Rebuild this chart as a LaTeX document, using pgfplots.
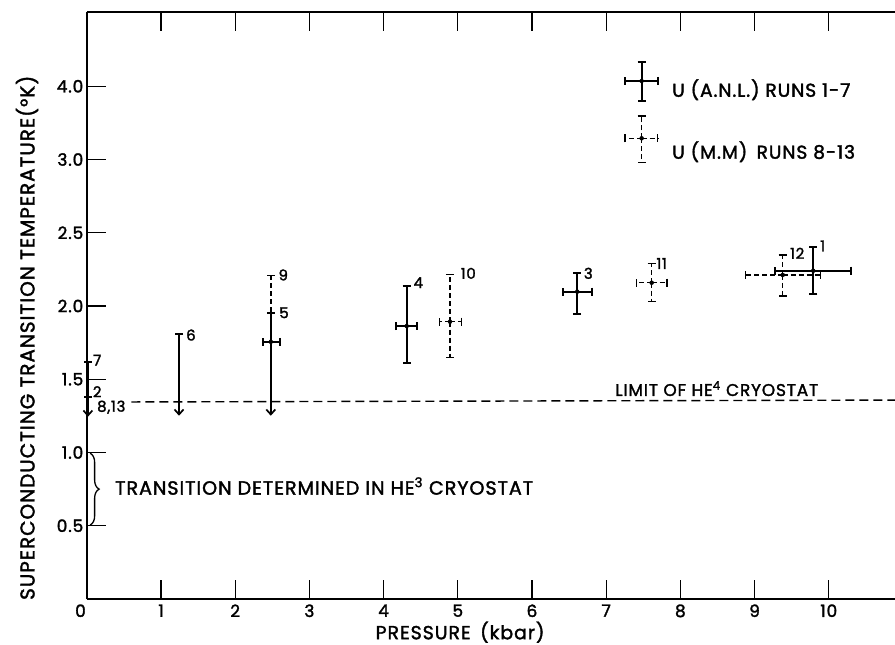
\documentclass[border=0pt]{standalone}
\usepackage{pgfplots}
\pgfplotsset{compat=1.18}
\usepackage{fontspec}
\setmainfont{Poppins}[FakeBold=1.8, LetterSpace=5]
\usetikzlibrary{arrows.meta,decorations.pathreplacing}

\pgfplotsset{
  anl/.style={only marks, mark=none, black,
    error bars/.cd, x dir=both, x explicit, y dir=both, y explicit,
    error mark=-,
    error mark options={black, solid, rotate=90, mark size=4bp, line width=1.7bp},
    error bar style={black, line width=1.7bp}},
  mm/.style={only marks, mark=none, black,
    error bars/.cd, x dir=both, x explicit, y dir=both, y explicit,
    error mark=-,
    error mark options={black, solid, rotate=90, mark size=4bp, line width=1.4bp},
    error bar style={black, line width=1.4bp, dash pattern=on 5bp off 3bp}},
  upper/.style={black, line width=1.7bp, mark=-, mark size=4bp,
    mark options={solid, arrows=-}, -{Straight Barb[length=5bp,width=9bp]}},
}
\tikzset{runno/.style={font=\fontsize{15}{17}\selectfont, inner sep=0pt}}

\begin{document}
\begin{tikzpicture}
\begin{axis}[
  at={(0,0)}, anchor=south west,
  scale only axis, width=813.2bp, height=587bp,
  xmin=0, xmax=10.96, ymin=0, ymax=4.007,
  axis x line=box, axis y line=left,
  axis line style={line width=1.6bp, -},
  tick align=inside, major tick length=19bp,
  tick style={line width=1.2bp, black},
  xtick={0,...,10},
  xticklabels={{\makebox[0pt][r]{0\hspace{1bp}}},1,2,3,4,5,6,7,8,9,10},
  ytick={0.5,1,1.5,2,2.5,3,3.5},
  yticklabels={0.5,1.0,1.5,2.0,2.5,3.0,4.0},
  ticklabel style={font=\fontsize{17}{20}\selectfont},
  xticklabel style={yshift=-2bp},
  /pgf/number format/assume math mode=true,
  xlabel={PRESSURE\enspace(kbar)},
  ylabel={SUPERCONDUCTING TRANSITION TEMPERATURE(°K)},
  xlabel style={font=\fontsize{19}{22}\selectfont,
    at={(axis description cs:0.459,-0.0565)}, anchor=center},
  ylabel style={font=\fontsize{20}{23}\selectfont,
    at={(axis description cs:-0.0735,0.445)}, anchor=center},
  clip=false,
]
% limit of the He4 cryostat
\addplot[black, line width=1.4bp, dash pattern=on 9bp off 5bp]
  coordinates {(0.6,1.345) (10.96,1.358)};

% U (A.N.L.) runs 1-7
\addplot[anl] coordinates {
  (4.311,1.863) += (0.143,0.274) -= (0.144,0.250)
  (6.610,2.098) += (0.200,0.125) -= (0.196,0.153)
  (9.791,2.241) += (0.504,0.164) -= (0.516,0.159)
  (2.480,1.756) += (0.124,0) -= (0.101,0)
};
\addplot[upper, mark indices={1,2}] coordinates {(0.015,1.62) (0.015,1.38) (0.015,1.244)};
\addplot[upper, mark indices={1}] coordinates {(1.243,1.807) (1.243,1.251)};
\addplot[upper, mark indices={1}] coordinates {(2.48,1.95) (2.48,1.251)};

% U (M.M) runs 8-13
\addplot[mm] coordinates {
  (4.895,1.893) += (0.155,0.323) -= (0.145,0.243)
  (7.613,2.159) += (0.207,0.131) -= (0.203,0.129)
  (9.379,2.212) += (0.511,0.136) -= (0.499,0.144)
};
\addplot[black, line width=1.4bp, dash pattern=on 5bp off 3bp,
  mark=-, mark size=4bp, mark options={solid}, mark indices={1}]
  coordinates {(2.48,2.21) (2.48,1.95)};

% key
\addplot[anl] coordinates {(7.478,3.536) += (0.216,0.132) -= (0.225,0.136)};
\addplot[mm] coordinates {(7.478,3.145) += (0.216,0.152) -= (0.225,0.167)};
\node[anchor=west, inner sep=0pt, font=\fontsize{18.7}{21}\selectfont]
  at (axis cs:7.887,3.476) {U (A.N.L.) RUNS 1-7};
\node[anchor=west, inner sep=0pt, font=\fontsize{18.7}{21}\selectfont]
  at (axis cs:7.887,3.053) {U (M.M)\enspace RUNS 8-13};

% run numbers
\node[runno] at (axis cs:0.14,1.63) {7};
\node[runno] at (axis cs:0.14,1.415) {2};
\node[runno] at (axis cs:0.33,1.309) {8,13};
\node[runno] at (axis cs:1.404,1.802) {6};
\node[runno] at (axis cs:2.648,2.212) {9};
\node[runno] at (axis cs:2.658,1.954) {5};
\node[runno] at (axis cs:4.468,2.159) {4};
\node[runno] at (axis cs:5.142,2.223) {10};
\node[runno] at (axis cs:6.759,2.223) {3};
\node[runno] at (axis cs:7.748,2.29) {11};
\node[runno] at (axis cs:9.575,2.36) {12};
\node[runno] at (axis cs:9.918,2.41) {1};

% annotations
\node[anchor=base west, font=\fontsize{17}{20}\selectfont, inner sep=0pt]
  at (axis cs:7.12,1.386) {LIMIT OF HE\textsuperscript{4} CRYOSTAT};
\draw[black, line width=1.3bp, decorate, decoration={brace, amplitude=9bp}]
  (axis cs:0.045,0.995) -- (axis cs:0.045,0.505);
\node[anchor=west, font=\fontsize{19.2}{22}\selectfont, inner sep=0pt]
  at (axis cs:0.38,0.771) {TRANSITION DETERMINED IN HE\textsuperscript{3} CRYOSTAT};
\end{axis}
\pgfresetboundingbox
\path[use as bounding box] (-86.8bp,-46bp) rectangle (808.2bp,599bp);
\end{tikzpicture}
\end{document}
